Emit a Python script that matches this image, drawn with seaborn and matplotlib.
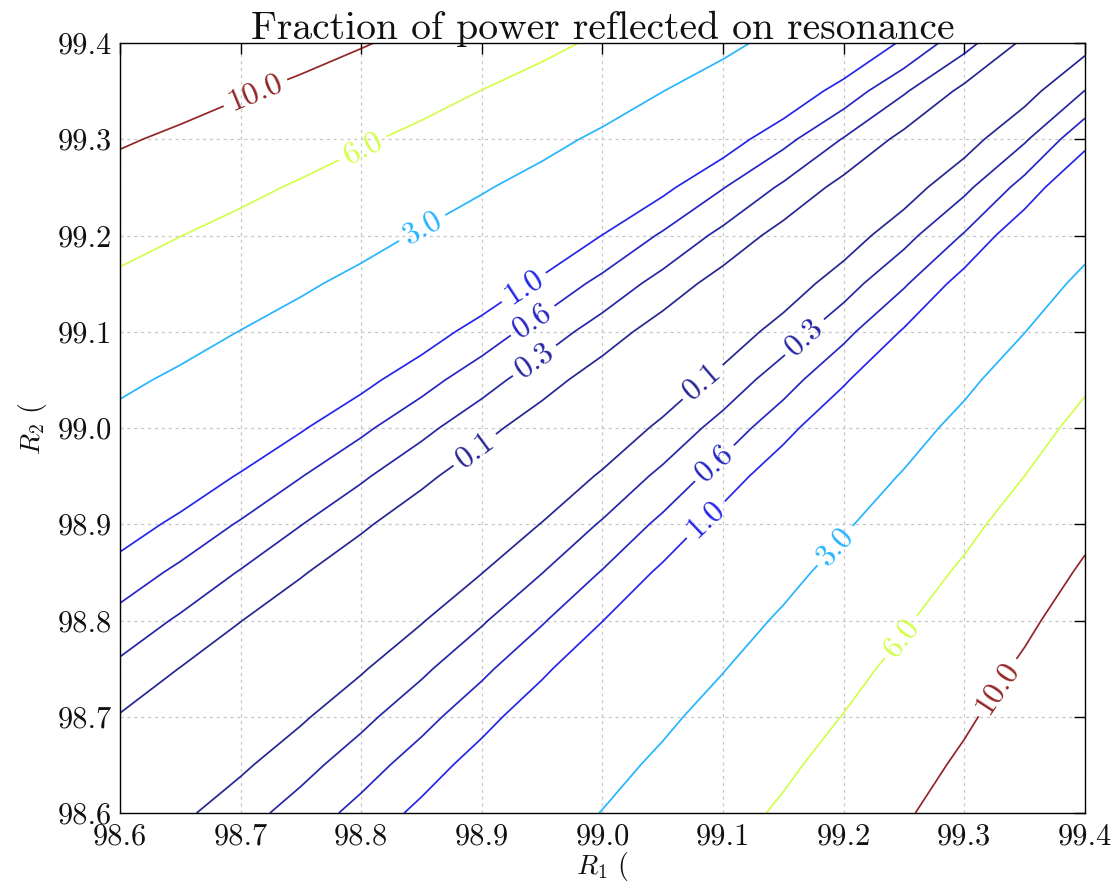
import numpy as np
import matplotlib
matplotlib.use("Agg")
import matplotlib.pyplot as plt
import seaborn as sns

# Mirror power reflectivities (percent) on the evaluation grid
r1_percent = np.linspace(98.6, 99.4, 17)
r2_percent = np.linspace(98.6, 99.4, 17)
# Round-trip intracavity loss (fraction)
cavity_loss = 2.0e-4
# Contour levels of reflected power (percent)
levels = [0.1, 0.3, 0.6, 1.0, 3.0, 6.0, 10.0]
# Where each contour label sits (R1, R2)
label_positions = [
    (98.712, 99.349), (98.799, 99.296), (98.850, 99.209), (98.937, 99.142),
    (98.948, 99.100), (98.948, 99.062), (98.900, 98.967),
    (99.085, 99.045), (99.170, 99.091), (99.098, 98.956), (99.081, 98.911),
    (99.197, 98.873), (99.257, 98.773), (99.334, 98.725),
]

sns.set_style("white")
plt.rcParams["font.family"] = ["cmr10", "DejaVu Serif"]
plt.rcParams["mathtext.fontset"] = "cm"
plt.rcParams["axes.formatter.use_mathtext"] = True

R1, R2 = np.meshgrid(r1_percent, r2_percent)
amp1 = np.sqrt(R1 / 100.0)
amp2 = np.sqrt(R2 / 100.0) * np.sqrt(1.0 - cavity_loss)
reflected = ((amp1 - amp2) / (1.0 - amp1 * amp2)) ** 2 * 100.0

fig = plt.figure(figsize=(11.19, 8.86), dpi=100)
ax = fig.add_axes([120 / 1119, 1 - 813 / 886, 965 / 1119, 770 / 886])

cs = ax.contour(R1, R2, reflected, levels=levels, cmap="jet",
                linewidths=1.25, alpha=0.85)
ax.clabel(cs, fmt="%.1f", fontsize=23, inline=True, inline_spacing=6,
          manual=label_positions)

ax.set_xlim(98.6, 99.4)
ax.set_ylim(98.6, 99.4)
ax.set_xticks(np.arange(98.6, 99.41, 0.1))
ax.set_yticks(np.arange(98.6, 99.41, 0.1))
ax.xaxis.set_major_formatter(matplotlib.ticker.FormatStrFormatter("%.1f"))
ax.yaxis.set_major_formatter(matplotlib.ticker.FormatStrFormatter("%.1f"))
ax.tick_params(direction="in", length=8, width=1, labelsize=22,
               top=True, right=True, colors="black", labelcolor="#111111")
ax.tick_params(axis="y", pad=6)
ax.tick_params(axis="x", pad=7)
ax.grid(True, color="#c8c8c8", linestyle=(0, (2.5, 3)), linewidth=0.9)
for sp in ax.spines.values():
    sp.set_color("black")
    sp.set_linewidth(1.0)

ax.set_title("Fraction of power reflected on resonance", fontsize=28.5,
             pad=3, color="#111111")
ax.set_xlabel(r"$R_1$ (", fontsize=20, labelpad=0, color="#111111")
ax.set_ylabel(r"$R_2$ (", fontsize=20, labelpad=6, color="#111111")

fig.savefig("out.png", dpi=100, facecolor="white")
